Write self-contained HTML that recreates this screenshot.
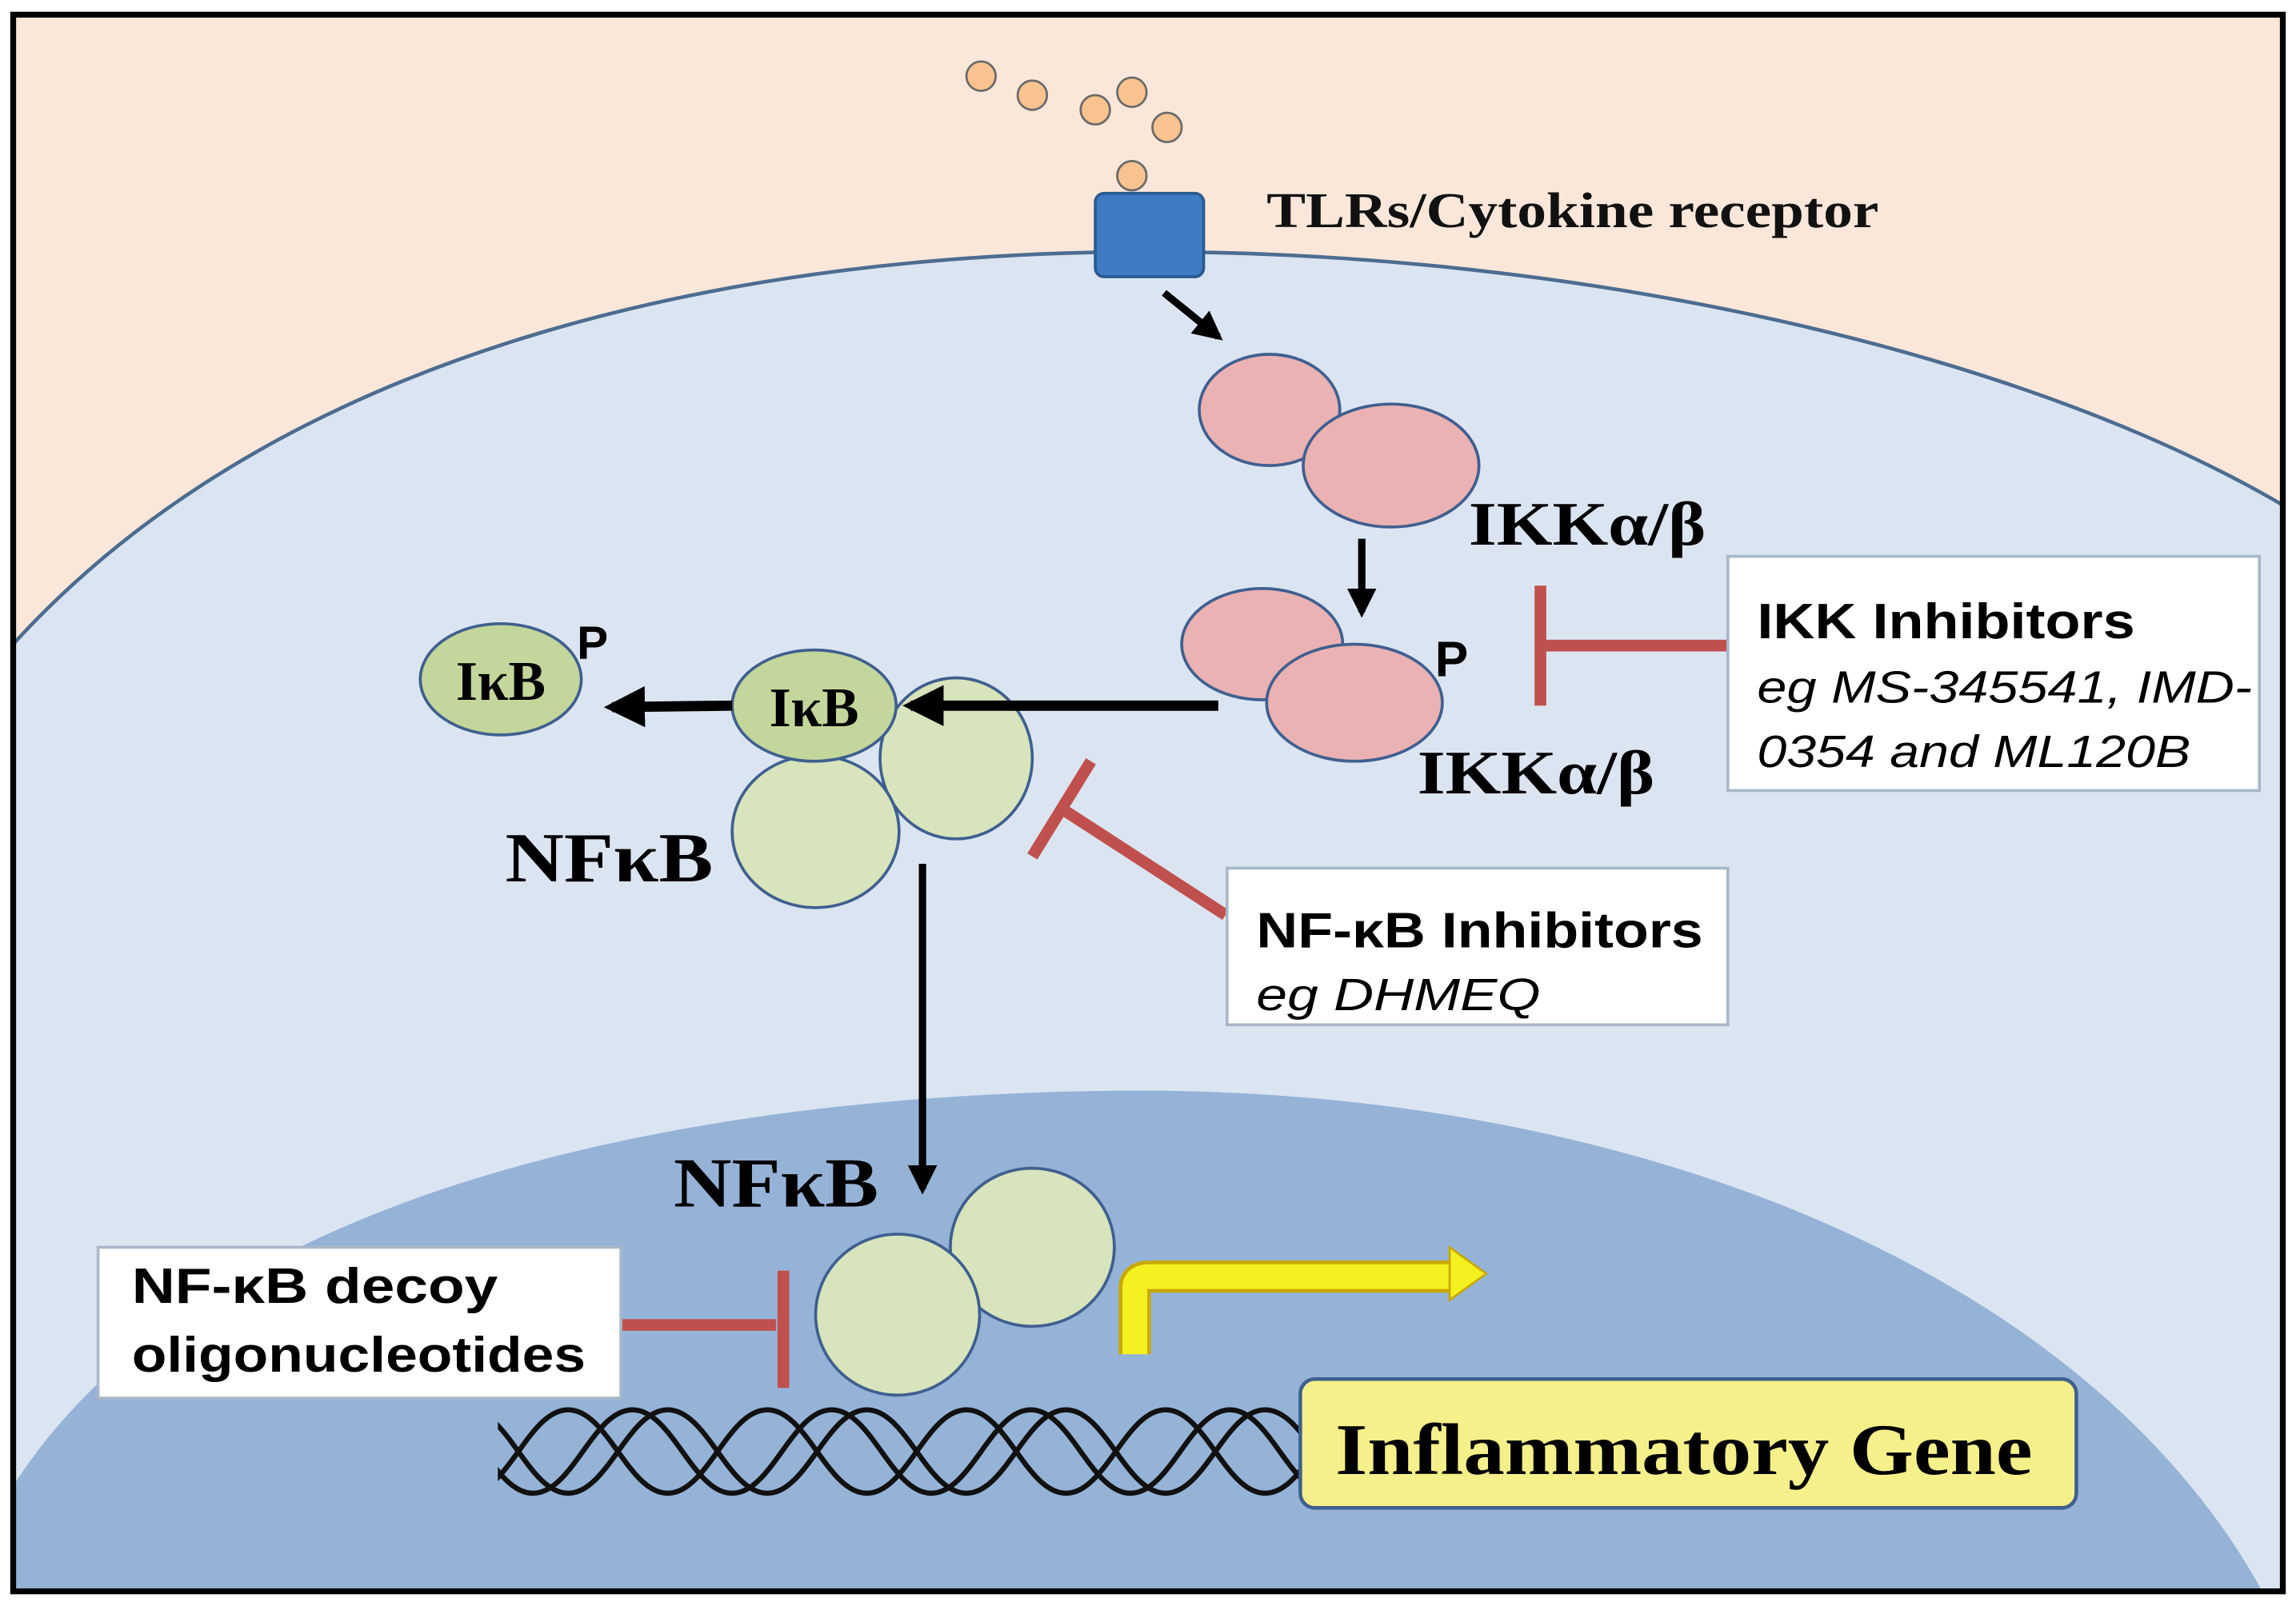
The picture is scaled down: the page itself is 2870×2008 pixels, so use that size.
<!DOCTYPE html>
<html><head><meta charset="utf-8"><style>html,body{margin:0;padding:0;background:#fff;overflow:hidden}svg{display:block}</style></head>
<body>
<svg width="2870" height="2008" viewBox="0 0 1568 1097" xmlns="http://www.w3.org/2000/svg">
<defs>
<marker id="ah" viewBox="0 0 10 10" refX="8" refY="5" markerWidth="4" markerHeight="4" orient="auto"><path d="M0,0 L10,5 L0,10 Z" fill="#000"/></marker>
<clipPath id="fr"><rect x="9" y="10" width="1550" height="1077"/></clipPath>
<clipPath id="dna"><rect x="340" y="940" width="550" height="100"/></clipPath>
</defs>
<rect x="0" y="0" width="1568" height="1097" fill="#fff"/>
<g clip-path="url(#fr)">
<rect x="9" y="10" width="1550" height="1077" fill="#fbe7d9"/>
<path d="M 9 440 C 200 230, 520 172, 785 172 C 1080 172, 1380 240, 1559 345 L 1559 1087 L 9 1087 Z" fill="#dbe5f1" stroke="#4c6c90" stroke-width="2.5"/>
<path d="M 9 1015 C 140 810, 480 745, 780 745 C 1100 745, 1420 860, 1545 1087 L 9 1087 Z" fill="#95b3d7"/>
</g>
<rect x="9" y="10" width="1550" height="1077" fill="none" stroke="#000" stroke-width="4"/>
<g fill="#f9c38f" stroke="#6a6a6a" stroke-width="1.5">
<circle cx="670" cy="52" r="10"/><circle cx="705" cy="65" r="10"/><circle cx="748" cy="75" r="10"/><circle cx="773" cy="63" r="10"/><circle cx="797" cy="87" r="10"/><circle cx="773" cy="120" r="10"/>
</g>
<rect x="748" y="132" width="74" height="57" rx="6" fill="#3d7cc4" stroke="#2a5a90" stroke-width="2"/>
<text x="865" y="155" font-family="Liberation Serif,serif" font-weight="bold" font-size="34" fill="#111" textLength="418" lengthAdjust="spacingAndGlyphs">TLRs/Cytokine receptor</text>
<line x1="795" y1="200" x2="832" y2="230" stroke="#000" stroke-width="5" marker-end="url(#ah)"/>
<g fill="#eab2b2" stroke="#3f5f8f" stroke-width="2">
<ellipse cx="867" cy="280" rx="48" ry="38"/><ellipse cx="950" cy="318" rx="60" ry="42"/>
<ellipse cx="862" cy="440" rx="55" ry="38"/><ellipse cx="925" cy="480" rx="60" ry="40"/>
</g>
<text x="1003" y="372" font-family="Liberation Serif,serif" font-weight="bold" font-size="42" textLength="162" lengthAdjust="spacingAndGlyphs">IKKα/β</text>
<line x1="930" y1="368" x2="930" y2="418" stroke="#000" stroke-width="5" marker-end="url(#ah)"/>
<text x="980" y="462" font-family="Liberation Sans,sans-serif" font-weight="bold" font-size="34">P</text>
<text x="968" y="542" font-family="Liberation Serif,serif" font-weight="bold" font-size="42" textLength="162" lengthAdjust="spacingAndGlyphs">IKKα/β</text>
<g stroke="#c0504d" stroke-width="8">
<line x1="1055" y1="441" x2="1180" y2="441"/><line x1="1052" y1="400" x2="1052" y2="482"/>
<line x1="837" y1="625" x2="726" y2="553"/><line x1="705" y1="585" x2="745" y2="520"/>
<line x1="424" y1="905" x2="530" y2="905"/><line x1="535" y1="868" x2="535" y2="948"/>
</g>
<rect x="1180" y="380" width="363" height="160" fill="#fff" stroke="#a8b8c8" stroke-width="2"/>
<text x="1200" y="436" font-family="Liberation Sans,sans-serif" font-weight="bold" font-size="34" textLength="258" lengthAdjust="spacingAndGlyphs">IKK Inhibitors</text>
<text x="1200" y="480" font-family="Liberation Sans,sans-serif" font-style="italic" font-size="31" textLength="338" lengthAdjust="spacingAndGlyphs">eg  MS-345541, IMD-</text>
<text x="1200" y="524" font-family="Liberation Sans,sans-serif" font-style="italic" font-size="31" textLength="296" lengthAdjust="spacingAndGlyphs">0354 and ML120B</text>
<g stroke="#3f5f8f" stroke-width="2">
<ellipse cx="653" cy="518" rx="52" ry="55" fill="#d7e4bc"/>
<ellipse cx="557" cy="568" rx="57" ry="52" fill="#d7e4bc"/>
<ellipse cx="556" cy="482" rx="56" ry="38" fill="#c3d69b"/>
<ellipse cx="342" cy="464" rx="55" ry="38" fill="#c3d69b"/>
<ellipse cx="705" cy="852" rx="56" ry="54" fill="#d7e4bc"/>
<ellipse cx="613" cy="898" rx="56" ry="55" fill="#d7e4bc"/>
</g>
<text x="342" y="478" text-anchor="middle" font-family="Liberation Serif,serif" font-weight="bold" font-size="38">IκB</text>
<text x="394" y="450" font-family="Liberation Sans,sans-serif" font-weight="bold" font-size="32">P</text>
<text x="556" y="496" text-anchor="middle" font-family="Liberation Serif,serif" font-weight="bold" font-size="38">IκB</text>
<line x1="500" y1="482" x2="418" y2="483" stroke="#000" stroke-width="7" marker-end="url(#ah)"/>
<line x1="832" y1="482" x2="622" y2="482" stroke="#000" stroke-width="7" marker-end="url(#ah)"/>
<text x="345" y="602" font-family="Liberation Serif,serif" font-weight="bold" font-size="48" textLength="142" lengthAdjust="spacingAndGlyphs">NFκB</text>
<rect x="838" y="593" width="342" height="107" fill="#fff" stroke="#a8b8c8" stroke-width="2"/>
<text x="858" y="647" font-family="Liberation Sans,sans-serif" font-weight="bold" font-size="34" textLength="305" lengthAdjust="spacingAndGlyphs">NF-κB Inhibitors</text>
<text x="858" y="690" font-family="Liberation Sans,sans-serif" font-style="italic" font-size="31" textLength="194" lengthAdjust="spacingAndGlyphs">eg  DHMEQ</text>
<line x1="630" y1="590" x2="630" y2="812" stroke="#000" stroke-width="5" marker-end="url(#ah)"/>
<text x="460" y="824" font-family="Liberation Serif,serif" font-weight="bold" font-size="48" textLength="140" lengthAdjust="spacingAndGlyphs">NFκB</text>
<path d="M 775 925 L 775 880 Q 775 872 785 872 L 990 872" fill="none" stroke="#c8a800" stroke-width="22"/>
<path d="M 775 925 L 775 880 Q 775 872 785 872 L 990 872" fill="none" stroke="#f5f020" stroke-width="17"/>
<path d="M 990 852 L 1015 870 L 990 888 Z" fill="#f5f020" stroke="#c8a800" stroke-width="1.5"/>
<rect x="67" y="852" width="357" height="103" fill="#fff" stroke="#a8b8c8" stroke-width="2"/>
<text x="90" y="890" font-family="Liberation Sans,sans-serif" font-weight="bold" font-size="34" textLength="250" lengthAdjust="spacingAndGlyphs">NF-κB  decoy</text>
<text x="90" y="937" font-family="Liberation Sans,sans-serif" font-weight="bold" font-size="34" textLength="310" lengthAdjust="spacingAndGlyphs">oligonucleotides</text>
<g fill="none" stroke="#111" stroke-width="3.5" clip-path="url(#dna)">
<path d="M320 963 c27 0 41 57 68 57 s41 -57 68 -57 s41 57 68 57 s41 -57 68 -57 s41 57 68 57 s41 -57 68 -57 s41 57 68 57 s41 -57 68 -57 s41 57 68 57"/>
<path d="M320 1020 c27 0 41 -57 68 -57 s41 57 68 57 s41 -57 68 -57 s41 57 68 57 s41 -57 68 -57 s41 57 68 57 s41 -57 68 -57 s41 57 68 57 s41 -57 68 -57"/>
<path d="M296 963 c27 0 41 57 68 57 s41 -57 68 -57 s41 57 68 57 s41 -57 68 -57 s41 57 68 57 s41 -57 68 -57 s41 57 68 57 s41 -57 68 -57 s41 57 68 57"/>
</g>
<rect x="888" y="942" width="530" height="88" rx="10" fill="#f5f08a" stroke="#3f5f8f" stroke-width="2.5"/>
<text x="912" y="1007" font-family="Liberation Serif,serif" font-weight="bold" font-size="50" textLength="476" lengthAdjust="spacingAndGlyphs">Inflammatory Gene</text>
</svg>
</body></html>
